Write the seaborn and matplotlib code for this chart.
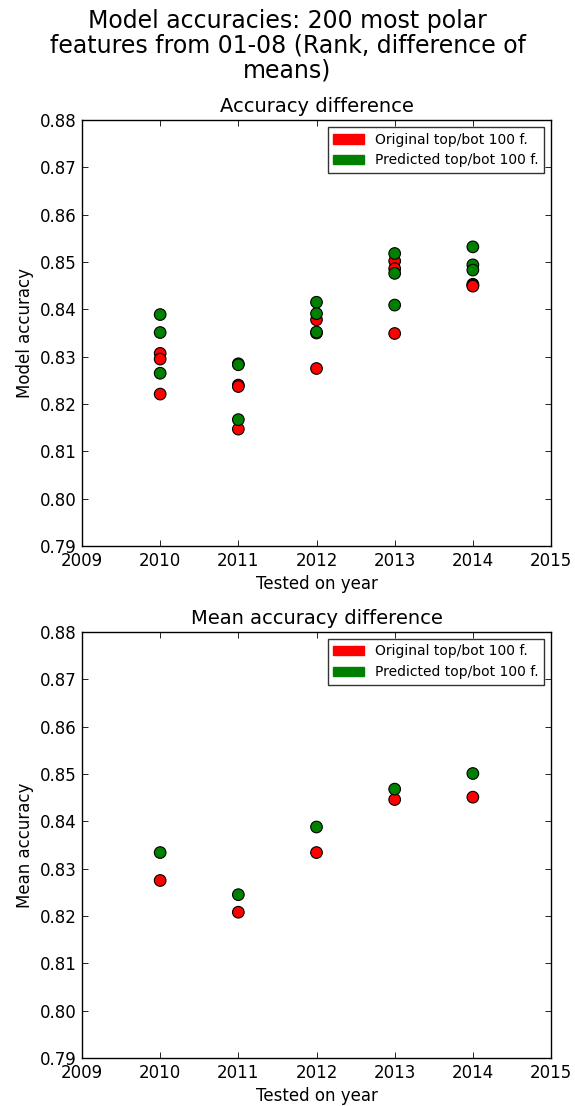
import pandas as pd
import seaborn as sns
import matplotlib.pyplot as plt
from matplotlib.patches import Patch

# Per-run accuracies
years = [2010, 2010, 2010, 2011, 2011, 2011, 2012, 2012, 2012, 2013, 2013, 2013, 2014, 2014, 2014]
original_acc = [0.8307, 0.8295, 0.8221, 0.8240, 0.8237, 0.8147, 0.8378, 0.8350, 0.8275,
                0.8502, 0.8486, 0.8349, 0.8453, 0.8451, 0.8449]
predicted_acc = [0.8389, 0.8351, 0.8265, 0.8285, 0.8283, 0.8167, 0.8415, 0.8391, 0.8352,
                 0.8518, 0.8476, 0.8409, 0.8532, 0.8494, 0.8483]

# Mean accuracy per year
mean_years = [2010, 2011, 2012, 2013, 2014]
original_mean = [0.8275, 0.8208, 0.8334, 0.8446, 0.8451]
predicted_mean = [0.8334, 0.8245, 0.8388, 0.8468, 0.8501]

labels = ["Original top/bot 100 f.", "Predicted top/bot 100 f."]
colors = {labels[0]: "red", labels[1]: "green"}

sns.set_theme(style="white")
plt.rcParams["font.family"] = ["DejaVu Sans"]
plt.rcParams.update({
    "xtick.direction": "in", "ytick.direction": "in",
    "xtick.top": True, "ytick.right": True,
    "xtick.bottom": True, "ytick.left": True,
    "xtick.major.size": 4, "ytick.major.size": 4,
    "xtick.major.width": 0.6, "ytick.major.width": 0.6,
    "axes.edgecolor": "black", "axes.linewidth": 1.0,
    "xtick.color": "black", "ytick.color": "black",
    "text.color": "black", "axes.labelcolor": "black",
    "axes.titlecolor": "black",
})

runs = pd.DataFrame({
    "year": years * 2,
    "acc": original_acc + predicted_acc,
    "kind": [labels[0]] * len(years) + [labels[1]] * len(years),
})
means = pd.DataFrame({
    "year": mean_years * 2,
    "acc": original_mean + predicted_mean,
    "kind": [labels[0]] * len(mean_years) + [labels[1]] * len(mean_years),
})

fig = plt.figure(figsize=(5.75, 11.06), dpi=100)
ax1 = fig.add_axes([0.1426, 0.5063, 0.8157, 0.3852])
ax2 = fig.add_axes([0.1426, 0.0434, 0.8157, 0.3852])

fig.suptitle("Model accuracies: 200 most polar\nfeatures from 01-08 (Rank, difference of\nmeans)",
             fontsize=17, y=0.992, linespacing=1.05)

handles = [Patch(facecolor="red", edgecolor="red", label=labels[0]),
           Patch(facecolor="green", edgecolor="green", label=labels[1])]

for ax, df, title, ylabel in [(ax1, runs, "Accuracy difference", "Model accuracy"),
                              (ax2, means, "Mean accuracy difference", "Mean accuracy")]:
    sns.scatterplot(data=df, x="year", y="acc", hue="kind", palette=colors, ax=ax,
                    s=70, edgecolor="black", linewidth=0.8, legend=False, zorder=3)
    ax.set_xlim(2009, 2015)
    ax.set_ylim(0.79, 0.88)
    ax.set_xticks(range(2009, 2016))
    ax.set_yticks([0.79 + 0.01 * i for i in range(10)])
    ax.set_yticklabels([f"{0.79 + 0.01 * i:.2f}" for i in range(10)])
    ax.tick_params(labelsize=12, pad=4)
    ax.set_title(title, fontsize=14)
    ax.set_xlabel("Tested on year", fontsize=12)
    ax.set_ylabel(ylabel, fontsize=12)
    leg = ax.legend(handles=handles, loc="upper right", fontsize=10, frameon=True,
                    fancybox=False, handlelength=2.2, borderaxespad=0.5)
    leg.get_frame().set_edgecolor("black")
    leg.get_frame().set_linewidth(1.0)

fig.savefig("out.png", dpi=100)
